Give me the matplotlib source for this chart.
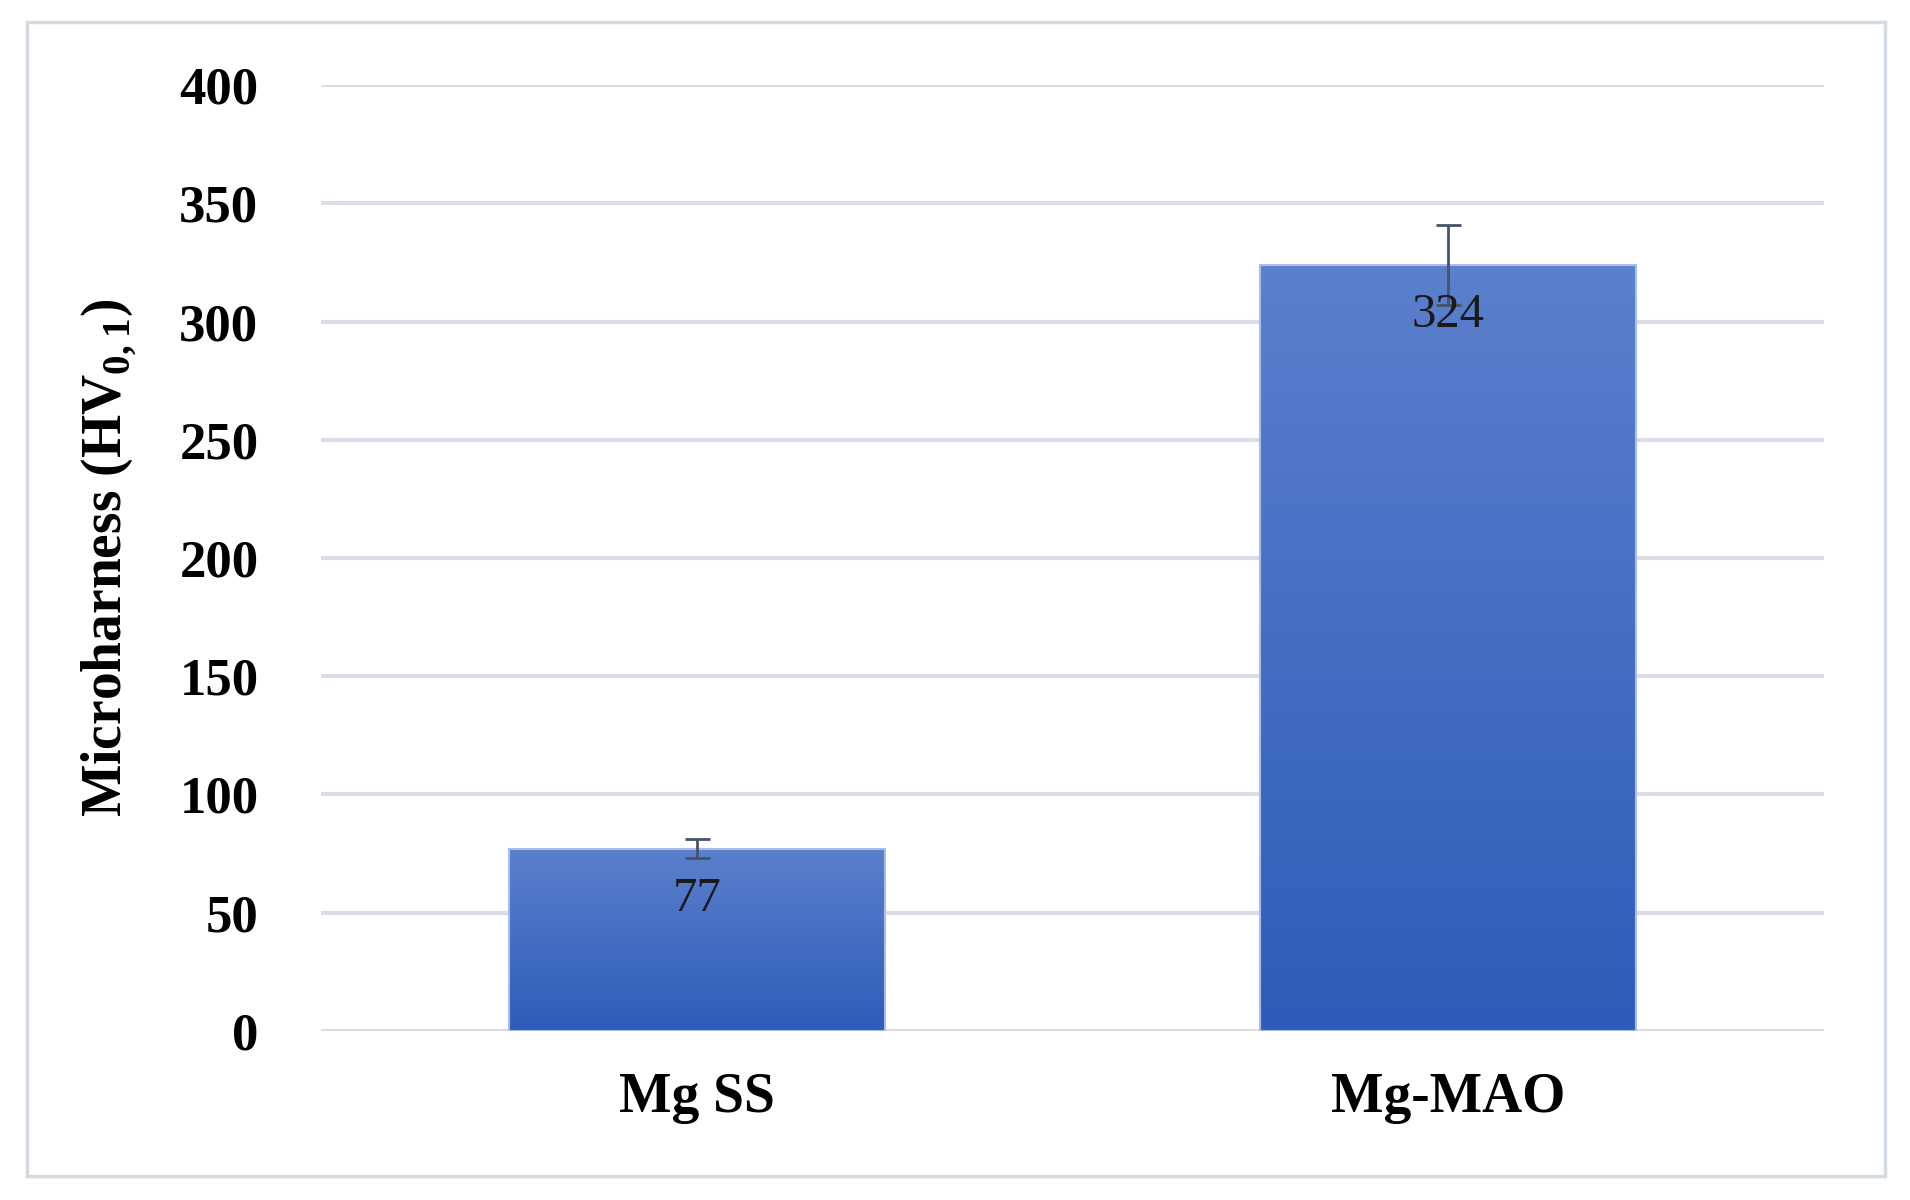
import matplotlib
matplotlib.use("Agg")
import matplotlib.pyplot as plt
import numpy as np
from matplotlib.patches import Rectangle

categories = ["Mg SS", "Mg-MAO"]
values = [77, 324]
errors = [4, 17]
yticks = [0, 50, 100, 150, 200, 250, 300, 350, 400]

plt.rcParams['font.family'] = ['Liberation Serif', 'DejaVu Serif']
plt.rcParams['mathtext.fontset'] = 'custom'
plt.rcParams['mathtext.rm'] = 'Liberation Serif:bold'
plt.rcParams['mathtext.bf'] = 'Liberation Serif:bold'
fig = plt.figure(figsize=(19.1, 12), dpi=100)
ax = fig.add_axes([0.168, 0.141, 0.787, 0.788])
fig.patches.append(Rectangle((0.014, 0.020), 0.973, 0.962, transform=fig.transFigure,
                             fill=False, edgecolor='#d5dbe3', linewidth=2.5))

x = np.arange(len(categories))
w = 0.5
bars = ax.bar(x, values, width=w, color='none', edgecolor='#a9bde6', linewidth=1.5, zorder=3)
grad = np.linspace(0, 1, 256).reshape(-1, 1)
cmap = matplotlib.colors.LinearSegmentedColormap.from_list('g', ['#2e5cba', '#5b80cc'])
for b in bars:
    im = ax.imshow(grad, cmap=cmap, aspect='auto', origin='lower',
                   extent=[b.get_x(), b.get_x() + b.get_width(), 0, b.get_height()], zorder=2)
    im.set_clip_path(b)
ax.errorbar(x, values, yerr=errors, fmt='none', ecolor='#44546a', capsize=9, elinewidth=2, capthick=2, zorder=4)
for xi, v in zip(x, values):
    ax.text(xi, v - 12, str(v), ha='center', va='top', fontsize=35, color='#1a1a1a', zorder=5)

ax.set_xlim(-0.5, 1.5)
ax.set_ylim(0, 400)
ax.set_yticks(yticks)
ax.set_xticks(x)
ax.set_xticklabels(categories, fontsize=40, fontweight='bold')
ax.tick_params(axis='y', labelsize=38, length=0, pad=45)
ax.tick_params(axis='x', length=0, pad=30)
for lab in ax.get_yticklabels():
    lab.set_fontweight('bold')
ax.grid(axis='y', color='#d9dee6', linewidth=3, zorder=0)
for s in ax.spines.values():
    s.set_visible(False)
ax.set_ylabel(r"Microharness (HV$_{\mathrm{0,1}}$)", fontsize=40, fontweight='bold', labelpad=30)
fig.savefig("out.png", dpi=100)
